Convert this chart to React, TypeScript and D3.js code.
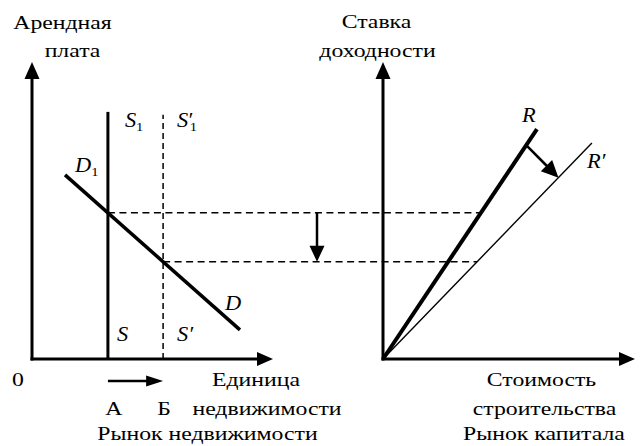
import React from 'react';
import * as d3 from 'd3';

const W = 640;
const H = 446;

// Left panel: real estate market (arbitrary units)
const supplyNames = ['S', "S'"];
const supplyQty = [3.15, 5.44]; // S1 and S1'
const supplyTop = [8.32, 8.22]; // upper end of the supply lines
const qtyLabels = ['А', 'Б'];
const demandQty = [1.37, 8.63];
const demandRent = [6.2, 0.98];

// Right panel: capital market
const rateNames = ['R', "R'"];
const rateCost = [6.11, 8.29];
const rateTop = [7.74, 7.27];
const shiftAt = [0.93, 0.84]; // where the R -> R' arrow starts / ends along each line

const FONT = '"Liberation Serif", "Times New Roman", serif';
const STRETCH = 1.25; // the original lettering is wide

const xL = d3.scaleLinear().domain([0, 10]).range([32, 273]);
const xR = d3.scaleLinear().domain([0, 10]).range([383, 635]);
const y = d3.scaleLinear().domain([0, 10]).range([359, 62]);

// demand curve value at a given quantity
const demandAt = (q: number) =>
  d3.scaleLinear().domain(demandQty).range(demandRent)(q);

// arrow head polygon, tip at (x2,y2)
const head = (x1: number, y1: number, x2: number, y2: number, len: number, half: number) => {
  const a = Math.atan2(y2 - y1, x2 - x1);
  const bx = x2 - len * Math.cos(a);
  const by = y2 - len * Math.sin(a);
  const px = -Math.sin(a) * half;
  const py = Math.cos(a) * half;
  return `${x2},${y2} ${bx + px},${by + py} ${bx - px},${by - py}`;
};

const Arrow = ({ x1, y1, x2, y2, w = 3, len = 16, half = 7 }: any) => {
  const a = Math.atan2(y2 - y1, x2 - x1);
  return (
    <g>
      <line x1={x1} y1={y1} x2={x2 - (len - 2) * Math.cos(a)} y2={y2 - (len - 2) * Math.sin(a)} stroke="#000" strokeWidth={w} />
      <polygon points={head(x1, y1, x2, y2, len, half)} fill="#000" />
    </g>
  );
};

const T = ({ x, y, children }: any) => (
  <text transform={`translate(${x},${y}) scale(${STRETCH},1)`} textAnchor="middle"
    fontFamily={FONT} fontSize={19} fill="#000">
    {children}
  </text>
);

const Label = ({ x, y, name, sub }: any) => {
  const base = name.replace("'", '');
  const prime = name.includes("'");
  return (
    <text transform={`translate(${x},${y}) scale(1.12,1)`} fontFamily={FONT} fontSize={20} fontStyle="italic">
      {base}
      {prime ? <tspan dx={sub ? -1 : 0}>′</tspan> : null}
      {sub ? (
        <tspan fontStyle="normal" fontSize={13} dx={prime ? -2 : 0} dy={4}>{sub}</tspan>
      ) : null}
    </text>
  );
};

export default function App() {
  const rents = supplyQty.map(demandAt);

  const lineR = (i: number, t: number) => [xR(rateCost[i] * t), y(rateTop[i] * t)];
  // point on R / R' at a given rent level
  const atLevel = (i: number, v: number) => xR((rateCost[i] * v) / rateTop[i]);

  const [sx, sy] = lineR(0, shiftAt[0]);
  const [ex, ey] = lineR(1, shiftAt[1]);

  return (
    <svg width={W} height={H} style={{ position: 'absolute', left: 0, top: 0, background: '#fff' }}>
      {/* axes */}
      <Arrow x1={xL(0)} y1={y(0) + 1.5} x2={xL(0)} y2={y(10)} len={17} half={7.5} />
      <Arrow x1={xL(0) - 1.5} y1={y(0)} x2={xL(10)} y2={y(0)} len={16} half={7} />
      <Arrow x1={xR(0)} y1={y(0) + 1.5} x2={xR(0)} y2={y(10)} len={17} half={7.5} />
      <Arrow x1={xR(0) - 1.5} y1={y(0)} x2={xR(10)} y2={y(0)} len={16} half={7} />

      {/* dashed rent levels */}
      {rents.map((v, i) => (
        <line key={'h' + i} x1={xL(supplyQty[i])} x2={atLevel(i, v)} y1={y(v)} y2={y(v)}
          stroke="#000" strokeWidth={1.5} strokeDasharray="7,4.5" />
      ))}

      {/* supply lines */}
      <line x1={xL(supplyQty[0])} x2={xL(supplyQty[0])} y1={y(0)} y2={y(supplyTop[0])} stroke="#000" strokeWidth={3} />
      <line x1={xL(supplyQty[1])} x2={xL(supplyQty[1])} y1={y(0)} y2={y(supplyTop[1])} stroke="#000" strokeWidth={1.5} strokeDasharray="6,4" />

      {/* demand */}
      <line x1={xL(demandQty[0])} y1={y(demandRent[0])} x2={xL(demandQty[1])} y2={y(demandRent[1])}
        stroke="#000" strokeWidth={3.5} />

      {/* R and R' */}
      <line x1={xR(0)} y1={y(0)} x2={xR(rateCost[0])} y2={y(rateTop[0])} stroke="#000" strokeWidth={4} />
      <line x1={xR(0)} y1={y(0)} x2={xR(rateCost[1])} y2={y(rateTop[1])} stroke="#000" strokeWidth={1.4} />

      {/* shift arrows */}
      <Arrow x1={sx} y1={sy} x2={ex} y2={ey} w={2.5} len={17} half={8} />
      <Arrow x1={317} y1={y(rents[0])} x2={317} y2={y(rents[1])} w={2.5} len={16} half={7.5} />
      <Arrow x1={xL(supplyQty[0])} y1={381} x2={xL(supplyQty[1])} y2={381} w={2.5} len={17} half={5.5} />

      {/* curve labels */}
      <Label x={xL(supplyQty[0]) + 17} y={y(supplyTop[0]) + 15} name={supplyNames[0]} sub="1" />
      <Label x={xL(supplyQty[1]) + 14} y={y(supplyTop[0]) + 15} name={supplyNames[1]} sub="1" />
      <Label x={xL(supplyQty[0]) + 9} y={341} name={supplyNames[0]} />
      <Label x={xL(supplyQty[1]) + 14} y={341} name={supplyNames[1]} />
      <Label x={xL(demandQty[0]) + 10} y={y(demandRent[0]) - 3} name="D" sub="1" />
      <Label x={xL(demandQty[1]) - 15} y={y(demandRent[1]) - 20} name="D" />
      <Label x={xR(rateCost[0]) - 15} y={y(rateTop[0]) - 7} name={rateNames[0]} />
      <Label x={xR(rateCost[1]) - 5} y={y(rateTop[1]) + 25} name={rateNames[1]} />

      {/* axis titles */}
      <T x={62.5} y={29}>Арендная</T>
      <T x={72.5} y={57}>плата</T>
      <T x={376.5} y={28}>Ставка</T>
      <T x={377.5} y={57}>доходности</T>
      <T x={18} y={386}>0</T>
      <T x={256} y={386}>Единица</T>
      <T x={267} y={415}>недвижимости</T>
      {qtyLabels.map((l, i) => (
        <T key={l} x={xL(supplyQty[i]) + (i === 0 ? 6 : 1)} y={415}>{l}</T>
      ))}
      <T x={207.5} y={440}>Рынок недвижимости</T>
      <T x={541.5} y={386}>Стоимость</T>
      <T x={544.5} y={415}>строительства</T>
      <T x={544} y={440}>Рынок капитала</T>
    </svg>
  );
}
